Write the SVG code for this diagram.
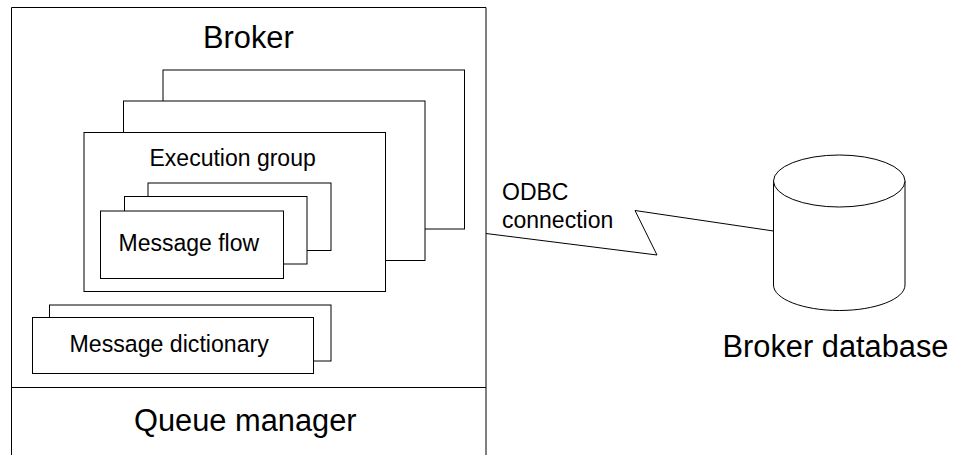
<svg xmlns="http://www.w3.org/2000/svg" width="954" height="455" viewBox="0 0 954 455">
<style>
.s{fill:#fff;stroke:#000;stroke-width:1}
.n{fill:none;stroke:#000;stroke-width:1}
text{font-family:"Liberation Sans",Arial,sans-serif;fill:#000}
.l{font-size:30.8px}
.m{font-size:23px}
</style>
<rect width="954" height="455" fill="#fff"/>
<g id="connectors"><polyline class="n" points="486,233.5 657,255 635,210.500 773.500,231"/></g>
<g id="broker"><path class="s" d="M11.500,456V7.500H486V456"/><text class="l" x="203" y="47.500">Broker</text></g>
<g id="queue-manager"><line class="n" x1="11.500" y1="387.500" x2="486" y2="387.500"/><text class="l" x="134" y="430.500">Queue manager</text></g>
<g id="execution-group-3"><rect class="s" x="163" y="70" width="301.500" height="159"/></g>
<g id="execution-group-2"><rect class="s" x="123.500" y="101" width="301.500" height="159.500"/></g>
<g id="execution-group-1"><rect class="s" x="84" y="132.500" width="301.500" height="159"/><text class="m" x="149.500" y="166">Execution group</text></g>
<g id="message-flow-3"><rect class="s" x="148" y="183" width="183" height="67.500"/></g>
<g id="message-flow-2"><rect class="s" x="124.500" y="196.500" width="182.500" height="67.500"/></g>
<g id="message-flow-1"><rect class="s" x="100.500" y="211" width="183" height="67.500"/><text class="m" x="118.500" y="251">Message flow</text></g>
<g id="message-dictionary-2"><rect class="s" x="49.500" y="305" width="281.500" height="56"/></g>
<g id="message-dictionary-1"><rect class="s" x="32.500" y="317.500" width="281" height="56"/><text class="m" x="69.500" y="351.500" style="font-size:23.150px">Message dictionary</text></g>
<g id="broker-database"><path class="s" d="M773.500,181V285C773.500,299 803,310.500 839.250,310.500S905,299 905,285V181"/><ellipse class="s" cx="839.250" cy="181" rx="65.750" ry="26"/><text class="l" x="722.500" y="356.500">Broker database</text></g>
<g id="odbc-label"><text class="m" x="502" y="200">ODBC</text><text class="m" x="502" y="227.500">connection</text></g>
</svg>
